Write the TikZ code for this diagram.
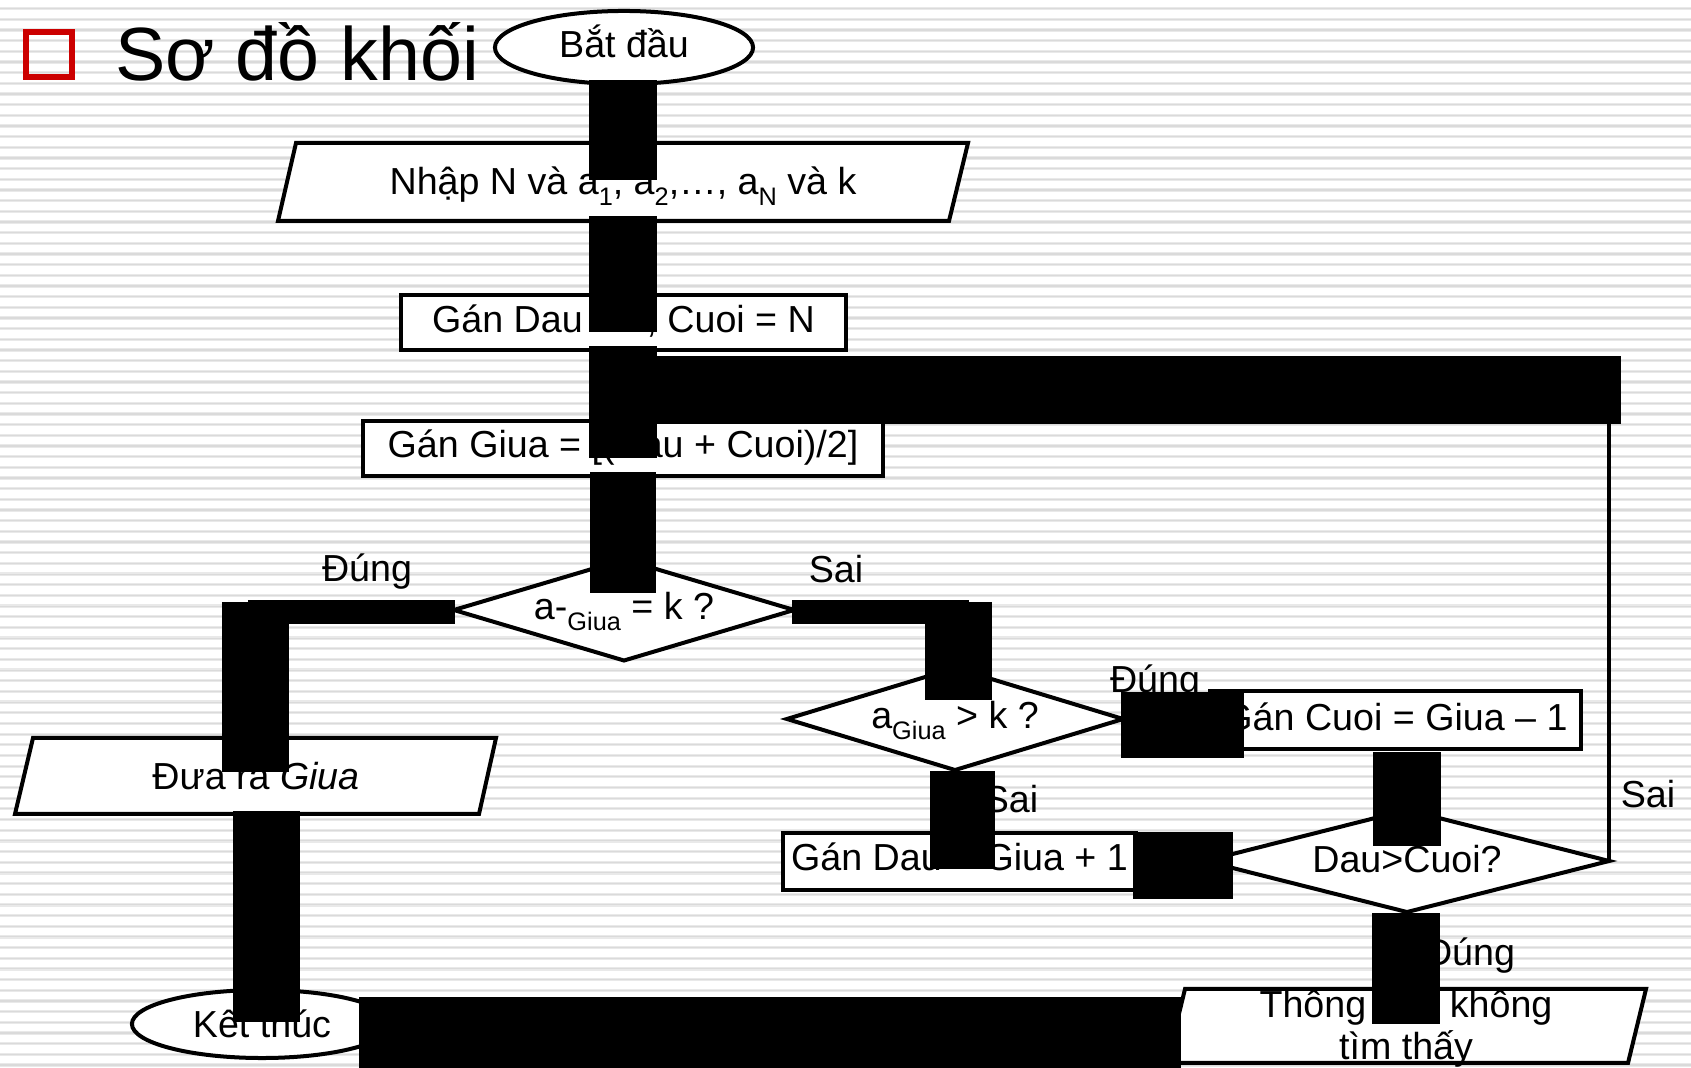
\documentclass[tikz,border=0pt]{standalone}
\usepackage{fontspec}
\setmainfont{Liberation Sans}
\usetikzlibrary{shapes.geometric}
\definecolor{bulletred}{RGB}{204,0,0}
\definecolor{stripeout}{RGB}{233,233,233}
\definecolor{stripein}{RGB}{218,218,218}
% lowered, smaller index text
\newcommand\lowsub[1]{\raisebox{-2.9pt}{\fontsize{7.2}{8}\selectfont #1}}

\begin{document}
\begin{tikzpicture}[x=0.01cm,y=-0.01cm,
  every node/.style={inner sep=0pt, outer sep=0pt},
  body/.style={font=\fontsize{10.7}{12.8}\selectfont},
  outline/.style={draw=black, line width=0.04cm, line join=miter, fill=white},
  terminal/.style={outline, body, ellipse},
  process/.style={outline, body, rectangle},
  decision/.style={outline, body, diamond},
  edgetext/.style={body, anchor=base},
  conn/.style={fill=black},
  thinlink/.style={draw=black, line width=0.04cm}]

\useasboundingbox (0,0) rectangle (1691,1068);

% striped background
\begin{scope}
  \clip (0,0) rectangle (1691,1068);
  \fill[white] (0,0) rectangle (1691,1068);
  \foreach \i in {0,...,99}{
    \pgfmathsetmacro{\yy}{8.6+10.67*\i}
    \draw[stripeout, line width=0.033cm] (0,\yy) -- (1691,\yy);
    \draw[stripein, line width=0.012cm] (0,\yy) -- (1691,\yy);
  }
\end{scope}

% heading
\draw[bulletred, line width=0.06cm] (26,32) rectangle (72,77);
\node[anchor=base west, font=\fontsize{21.45}{25}\selectfont] (title) at (115,81) {Sơ đồ khối};

% terminals
\node[terminal, minimum width=2.58cm, minimum height=0.73cm, text height=0.31cm, text depth=0.1cm] (start) at (624,47.5) {Bắt đầu};
\node[terminal, minimum width=2.60cm, minimum height=0.68cm, text height=0.36cm, text depth=0.1cm] (stop) at (262,1024) {Kết thúc};

% input / output blocks
\draw[outline] (296,143) -- (968,143) -- (949,221) -- (278,221) -- cycle;
\node[edgetext] (input) at (623,195) {Nhập N và a\lowsub{1}, a\lowsub{2},…, a\lowsub{N} và k};

\draw[outline] (33,738) -- (496,738) -- (479,814) -- (15,814) -- cycle;
\node[edgetext] (output) at (256,790) {Đưa ra \textit{Giua}};

\draw[outline] (1185,989) -- (1646,989) -- (1628,1063) -- (1167,1063) -- cycle;
\node[edgetext] (msg) at (1406,1018) {Thông báo không};
\node[edgetext] (msgb) at (1406,1060) {tìm thấy};

% processes
\node[process, minimum width=4.45cm, minimum height=0.55cm, text height=0.31cm, text depth=0.1cm] (init) at (623.5,322.5) {Gán Dau = 1, Cuoi = N};
\node[process, minimum width=5.20cm, minimum height=0.55cm, text height=0.29cm, text depth=0.1cm] (middle) at (623,448.5) {Gán Giua = [(Dau + Cuoi)/2]};
\node[process, minimum width=3.71cm, minimum height=0.58cm, text height=0.30cm, text depth=0.1cm] (setlast) at (1395.5,720) {Gán Cuoi = Giua – 1};
\node[process, minimum width=3.53cm, minimum height=0.57cm, text height=0.27cm, text depth=0.1cm] (setfirst) at (959.5,861.5) {Gán Dau = Giua + 1};

% decisions
\node[decision, aspect=3.4, minimum width=3.40cm, minimum height=1.01cm, text height=0.30cm, text depth=0.1cm] (cond1) at (624,610) {a-\lowsub{Giua} = k ?};
\node[decision, aspect=3.3, minimum width=3.36cm, minimum height=1.02cm, text height=0.30cm, text depth=0.1cm] (cond2) at (955,719) {a\lowsub{Giua} > k ?};
\node[decision, aspect=3.96, minimum width=4.04cm, minimum height=1.02cm, text height=0.32cm, text depth=0.1cm] (cond3) at (1407,861) {Dau>Cuoi?};

% branch labels
\node[edgetext] (yes1) at (367,582) {Đúng};
\node[edgetext] (no1) at (836,583) {Sai};
\node[edgetext] (yes2) at (1155,693) {Đúng};
\node[edgetext] (no2) at (1011,813) {Sai};
\node[edgetext] (no3) at (1648,808) {Sai};
\node[edgetext] (yes3) at (1470,966) {Đúng};

% loop back to the Giua step
\coordinate (loopin) at (1611,423);
\draw[thinlink] (cond3.east) -- (cond3.east |- loopin);

% connectors
\fill[conn] (589,80) rectangle (657,180);     % start -> input
\fill[conn] (589,216) rectangle (657,332);    % input -> init
\fill[conn] (589,346) rectangle (657,458);    % init -> middle
\fill[conn] (589,356) rectangle (1621,424);   % loop -> middle
\fill[conn] (590,472) rectangle (656,593);    % middle -> cond1
\fill[conn] (248,600) rectangle (455,624);    % cond1 yes
\fill[conn] (222,602) rectangle (289,772);    % -> output
\fill[conn] (233,811) rectangle (300,1022);   % output -> stop
\fill[conn] (792,600) rectangle (969,624);    % cond1 no
\fill[conn] (925,602) rectangle (992,700);    % -> cond2
\fill[conn] (930,771) rectangle (995,869);    % cond2 no -> setfirst
\fill[conn] (1121,692) rectangle (1244,758);  % cond2 yes -> setlast
\fill[conn] (1373,752) rectangle (1441,846);  % setlast -> cond3
\fill[conn] (1133,832) rectangle (1233,899);  % setfirst -> cond3
\fill[conn] (1372,913) rectangle (1440,1024); % cond3 yes -> msg
\fill[conn] (359,997) rectangle (1181,1068);  % msg -> stop
\end{tikzpicture}
\end{document}
